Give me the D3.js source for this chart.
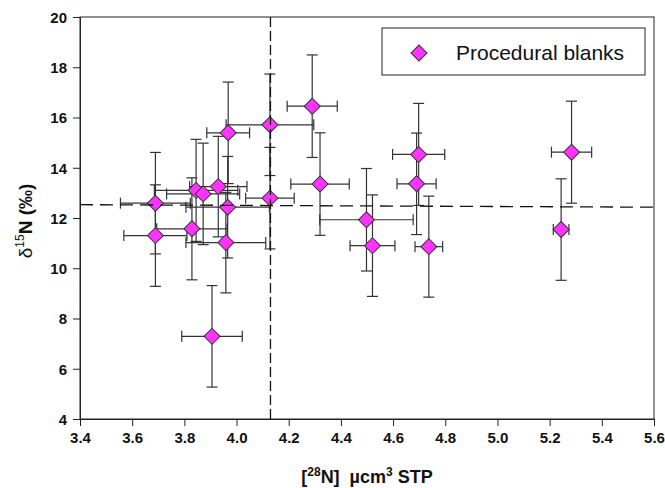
<!DOCTYPE html>
<html>
<head>
<meta charset="utf-8">
<script src="https://cdn.jsdelivr.net/npm/d3@7"></script>
<style>
  body { margin: 0; background: white; }
  text { font-family: "Liberation Sans", Arial, sans-serif; }
</style>
</head>
<body>
<script>
const width = 665;
const height = 488;
const margin = { top: 17, right: 11, bottom: 69, left: 80 };

// values
const xVals = [3.689, 3.689, 3.829, 3.845, 3.872, 3.906, 3.93, 3.966, 3.959, 3.968, 4.128, 4.128, 4.29, 4.32, 4.498, 4.521, 4.698, 4.69, 4.737, 5.244, 5.284];
const yVals = [11.30, 12.59, 11.57, 13.10, 12.96, 7.29, 13.25, 12.43, 11.02, 15.39, 15.71, 12.79, 16.45, 13.35, 11.93, 10.90, 14.53, 13.36, 10.86, 11.54, 14.62];
const xErr = [0.121, 0.134, 0.135, 0.16, 0.14, 0.116, 0.11, 0.16, 0.153, 0.082, 0.168, 0.093, 0.096, 0.112, 0.179, 0.086, 0.1, 0.075, 0.053, 0.03, 0.077];
const yErr = [2.02, 2.02, 2.03, 2.03, 2.02, 2.02, 2.0, 2.02, 2.0, 2.02, 2.02, 2.02, 2.04, 2.04, 2.04, 2.02, 2.03, 2.02, 2.01, 2.02, 2.03];
const xTicks = [3.4, 3.6, 3.8, 4.0, 4.2, 4.4, 4.6, 4.8, 5.0, 5.2, 5.4, 5.6];
const yTicks = [4, 6, 8, 10, 12, 14, 16, 18, 20];
const vLineX = 4.13;
const hLine = [[3.4, 12.53], [5.6, 12.43]];
const legendLabel = "Procedural blanks";

const points = xVals.map((x, i) => ({ x: x, y: yVals[i], ex: xErr[i], ey: yErr[i] }));

const svg = d3.select("body").append("svg")
  .attr("width", width)
  .attr("height", height);

const x = d3.scaleLinear().domain([3.4, 5.6]).range([margin.left, width - margin.right]);
const y = d3.scaleLinear().domain([4, 20]).range([height - margin.bottom, margin.top]);

// frame
svg.append("rect")
  .attr("x", x(3.4)).attr("y", y(20))
  .attr("width", x(5.6) - x(3.4)).attr("height", y(4) - y(20))
  .attr("fill", "none").attr("stroke", "#222").attr("stroke-width", 1);

const xAxis = svg.append("g")
  .attr("transform", `translate(0,${y(4)})`)
  .call(d3.axisBottom(x).tickValues(xTicks).tickFormat(d3.format(".1f")).tickSize(7).tickPadding(6));
const yAxis = svg.append("g")
  .attr("transform", `translate(${x(3.4)},0)`)
  .call(d3.axisLeft(y).tickValues(yTicks).tickSize(7).tickPadding(6));

[xAxis, yAxis].forEach(a => {
  a.select(".domain").attr("stroke", "#222");
  a.selectAll(".tick line").attr("stroke", "#222");
  a.selectAll("text")
    .attr("font-size", 15)
    .attr("font-weight", "bold")
    .attr("fill", "#111")
    .style("font-family", "'Liberation Sans', Arial, sans-serif");
});
yAxis.selectAll("text").attr("dy", "0.36em");

// error bars
const cap = 5.5;
const bars = svg.append("g").attr("stroke", "#333").attr("stroke-width", 1.2);
points.forEach(d => {
  const cx = x(d.x), cy = y(d.y);
  const x0 = x(d.x - d.ex), x1 = x(d.x + d.ex);
  const y0 = y(d.y - d.ey), y1 = y(d.y + d.ey);
  bars.append("line").attr("x1", x0).attr("x2", x1).attr("y1", cy).attr("y2", cy);
  bars.append("line").attr("x1", x0).attr("x2", x0).attr("y1", cy - cap).attr("y2", cy + cap);
  bars.append("line").attr("x1", x1).attr("x2", x1).attr("y1", cy - cap).attr("y2", cy + cap);
  bars.append("line").attr("x1", cx).attr("x2", cx).attr("y1", y0).attr("y2", y1);
  bars.append("line").attr("x1", cx - cap).attr("x2", cx + cap).attr("y1", y0).attr("y2", y0);
  bars.append("line").attr("x1", cx - cap).attr("x2", cx + cap).attr("y1", y1).attr("y2", y1);
});

// diamonds
const diamond = d3.symbol().type(d3.symbolSquare).size(128);
svg.append("g").selectAll("path")
  .data(points)
  .join("path")
  .attr("d", diamond)
  .attr("transform", d => `translate(${x(d.x)},${y(d.y)}) rotate(45)`)
  .attr("fill", "#ff33ff")
  .attr("stroke", "#333")
  .attr("stroke-width", 1);

// reference lines
svg.append("line")
  .attr("x1", x(vLineX)).attr("x2", x(vLineX))
  .attr("y1", y(4)).attr("y2", y(20))
  .attr("stroke", "#111").attr("stroke-width", 1.3)
  .attr("stroke-dasharray", "10,4");
svg.append("line")
  .attr("x1", x(hLine[0][0])).attr("x2", x(hLine[1][0]))
  .attr("y1", y(hLine[0][1])).attr("y2", y(hLine[1][1]))
  .attr("stroke", "#111").attr("stroke-width", 1.3)
  .attr("stroke-dasharray", "13,7");

// legend
const legend = svg.append("g");
legend.append("rect")
  .attr("x", 382).attr("y", 28)
  .attr("width", 263).attr("height", 47)
  .attr("fill", "white").attr("stroke", "#222").attr("stroke-width", 1);
legend.append("path")
  .attr("d", diamond)
  .attr("transform", "translate(419,53) rotate(45)")
  .attr("fill", "#ff33ff").attr("stroke", "#333");
legend.append("text")
  .attr("x", 456).attr("y", 60)
  .attr("font-size", 21)
  .attr("fill", "#111")
  .text(legendLabel);

// axis titles
const xTitle = svg.append("text")
  .attr("x", (x(3.4) + x(5.6)) / 2)
  .attr("y", 483)
  .attr("text-anchor", "middle")
  .attr("font-size", 18)
  .attr("font-weight", "bold")
  .attr("fill", "#111");
xTitle.append("tspan").text("[");
xTitle.append("tspan").attr("font-size", 12).attr("dy", -7).text("28");
xTitle.append("tspan").attr("dy", 7).text("N]\u00a0\u00a0\u00b5cm");
xTitle.append("tspan").attr("font-size", 12).attr("dy", -7).text("3");
xTitle.append("tspan").attr("dy", 7).text("\u00a0STP");

const yTitle = svg.append("text")
  .attr("transform", `translate(32,${(y(4) + y(20)) / 2 + 3}) rotate(-90)`)
  .attr("text-anchor", "middle")
  .attr("font-size", 19)
  .attr("font-weight", "bold")
  .attr("fill", "#111");
yTitle.append("tspan").attr("font-weight", "normal").text("\u03b4");
yTitle.append("tspan").attr("font-size", 12).attr("font-weight", "normal").attr("dy", -8).text("15");
yTitle.append("tspan").attr("dy", 8).text("N (\u2030)");
</script>
</body>
</html>
